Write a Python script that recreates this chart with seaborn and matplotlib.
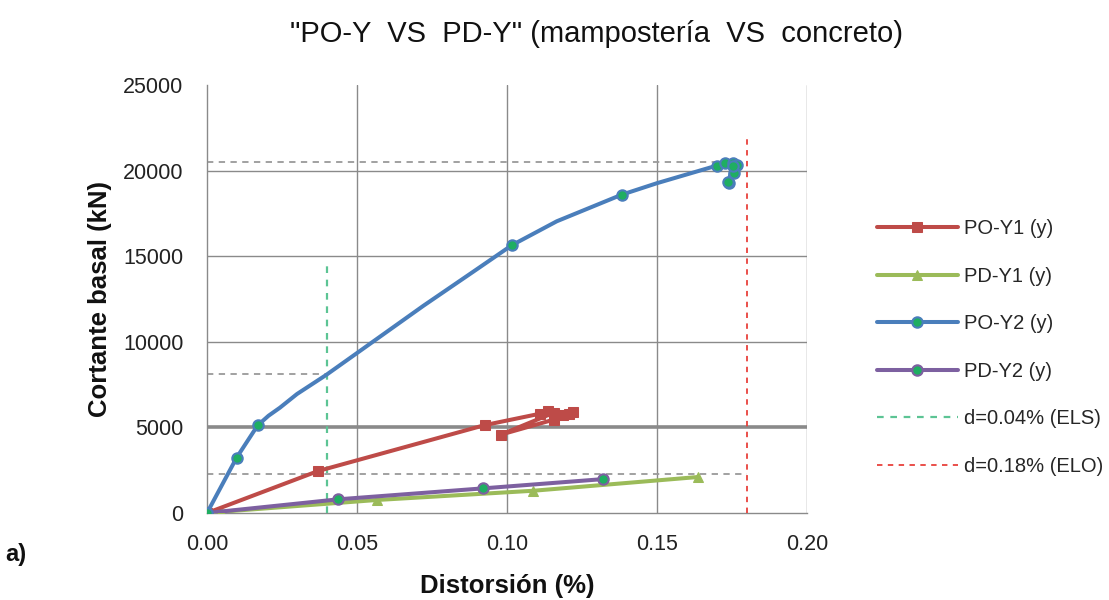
import matplotlib
matplotlib.use("Agg")
import matplotlib.pyplot as plt
from matplotlib import font_manager
import seaborn as sns

# PO-Y1 (y): pushover, masonry model
po_y1_x = [0.000, 0.037, 0.0925, 0.111, 0.1135, 0.1155, 0.098, 0.1155, 0.1185, 0.1205, 0.122]
po_y1_y = [0, 2450, 5130, 5800, 5950, 5850, 4580, 5450, 5750, 5800, 5900]

# PD-Y1 (y)
pd_y1_x = [0.000, 0.0045, 0.0566, 0.1088, 0.1635]
pd_y1_y = [0, 70, 760, 1300, 2100]

# PO-Y2 (y): pushover, concrete model
po_y2_x = [0.0000, 0.0099, 0.0169, 0.0205, 0.0243, 0.0300, 0.0397, 0.0499, 0.0721, 0.0888,
           0.1016, 0.1166, 0.1382, 0.1499, 0.1699, 0.1728, 0.1754, 0.1768, 0.1757, 0.1741,
           0.1738, 0.1752]
po_y2_y = [0, 3240, 5120, 5680, 6150, 6950, 8060, 9330, 12100, 14100,
           15640, 17040, 18590, 19260, 20290, 20450, 20450, 20350, 19840, 19260,
           19350, 20250]
po_y2_marks = [0, 1, 2, 10, 12, 14, 15, 16, 17, 18, 19, 20, 21]

# PD-Y2 (y)
pd_y2_x = [0.0000, 0.0438, 0.0921, 0.1321]
pd_y2_y = [0, 800, 1440, 1980]

# drift limits
els_x, els_top = 0.04, 14700
elo_x, elo_top = 0.18, 21900

# horizontal reference levels (value, x extent)
ref_levels = [20500, 8100, 2300]
ref_extent = [0.18, 0.04, 0.18]

x_ticks = [0.00, 0.05, 0.10, 0.15, 0.20]
y_ticks = [0, 5000, 10000, 15000, 20000, 25000]

series_names = ["PO-Y1 (y)", "PD-Y1 (y)", "PO-Y2 (y)", "PD-Y2 (y)",
                "d=0.04% (ELS)", "d=0.18% (ELO)"]

sns.set_theme(style="white")
plt.rcParams["font.family"] = ["Liberation Sans", "DejaVu Sans"]

installed = {f.name for f in font_manager.fontManager.ttflist}
if "Liberation Sans Narrow" in installed:
    title_font, title_size = ["Liberation Sans Narrow", "DejaVu Sans"], 25
else:
    title_font, title_size = ["Liberation Sans", "DejaVu Sans"], 21

RED = "#be4b48"
OLIVE = "#9bbb59"
BLUE = "#4a7ebb"
PURPLE = "#7d60a0"
MARK_GREEN = "#1fae62"
GRID = "#8a8a8a"

W, H = 1109, 600
fig = plt.figure(figsize=(W / 100, H / 100), dpi=100)
ax = fig.add_axes([207 / W, 1 - 513 / H, 600 / W, (513 - 85) / H])
ax.set_facecolor("none")

lw = 2.9
sns.lineplot(x=po_y1_x, y=po_y1_y, sort=False, estimator=None, ax=ax, color=RED,
             lw=lw, marker="s", ms=7.5, mfc=RED, mec=RED, label=series_names[0], zorder=5)
sns.lineplot(x=pd_y1_x, y=pd_y1_y, sort=False, estimator=None, ax=ax, color=OLIVE,
             lw=lw, marker="^", ms=7, mfc=OLIVE, mec=OLIVE, label=series_names[1], zorder=4)
sns.lineplot(x=po_y2_x, y=po_y2_y, sort=False, estimator=None, ax=ax, color=BLUE,
             lw=lw, marker="o", ms=7.5, mfc=MARK_GREEN, mec=BLUE, mew=1.5,
             markevery=po_y2_marks, label=series_names[2], zorder=6)
sns.lineplot(x=pd_y2_x, y=pd_y2_y, sort=False, estimator=None, ax=ax, color=PURPLE,
             lw=lw, marker="o", ms=7.5, mfc=MARK_GREEN, mec=PURPLE, mew=1.5,
             label=series_names[3], zorder=5)

# drift limit lines
ax.plot([els_x, els_x], [0, els_top], ls=(0, (3, 3)), lw=1.6, color="#5cc494",
        label=series_names[4], zorder=3)
ax.plot([elo_x, elo_x], [0, elo_top], ls=(0, (3, 3)), lw=1.3, color="#e8413c",
        label=series_names[5], zorder=3)

# horizontal reference levels
for yv, xe in zip(ref_levels, ref_extent):
    ax.plot([0, xe], [yv, yv], ls=(0, (3.5, 3)), lw=1.3, color="#9a9a9a", zorder=2)

ax.set_xlim(x_ticks[0], x_ticks[-1])
ax.set_ylim(y_ticks[0], y_ticks[-1])
ax.set_xticks(x_ticks)
ax.set_yticks(y_ticks)
ax.set_xticklabels([f"{v:.2f}" for v in x_ticks])
ax.set_yticklabels([f"{v:d}" for v in y_ticks])

# gridlines: every major tick except the top one, the 5000 level heavier
for yv in y_ticks[1:-1]:
    ax.axhline(yv, color=GRID, lw=2.6 if yv == 5000 else 1.0, zorder=1)
for xv in x_ticks[1:]:
    ax.axvline(xv, color=GRID, lw=1.0, zorder=1)

for side in ["top", "right"]:
    ax.spines[side].set_visible(False)
for side in ["left", "bottom"]:
    ax.spines[side].set_color(GRID)
    ax.spines[side].set_linewidth(1.0)

ax.tick_params(axis="both", length=0, labelsize=15.5, colors="#222222")
ax.tick_params(axis="x", pad=15)
ax.tick_params(axis="y", pad=17)

ax.set_xlabel("Distorsión (%)", fontsize=18.5, fontweight="bold", labelpad=14, color="#111111")
ax.set_ylabel("Cortante basal (kN)", fontsize=18.5, fontweight="bold", labelpad=8, color="#111111")

fig.text(597 / W, 1 - 34 / H, '"PO-Y  VS  PD-Y" (mampostería  VS  concreto)',
         family=title_font, fontsize=title_size, ha="center", va="center", color="#111111")
fig.text(5 / W, 1 - 555 / H, "a)", fontsize=17, fontweight="bold", ha="left", va="center",
         color="#111111")

handles, labels = ax.get_legend_handles_labels()
order = [labels.index(n) for n in series_names]
if ax.get_legend() is not None:
    ax.get_legend().remove()
fig.legend([handles[i] for i in order], [labels[i] for i in order],
           loc="upper left", bbox_to_anchor=(869 / W, 1 - 211 / H),
           bbox_transform=fig.transFigure, borderaxespad=0, frameon=False,
           fontsize=14.5, handlelength=4, handletextpad=0.3, labelspacing=1.42)

fig.savefig("out.png", dpi=100)
